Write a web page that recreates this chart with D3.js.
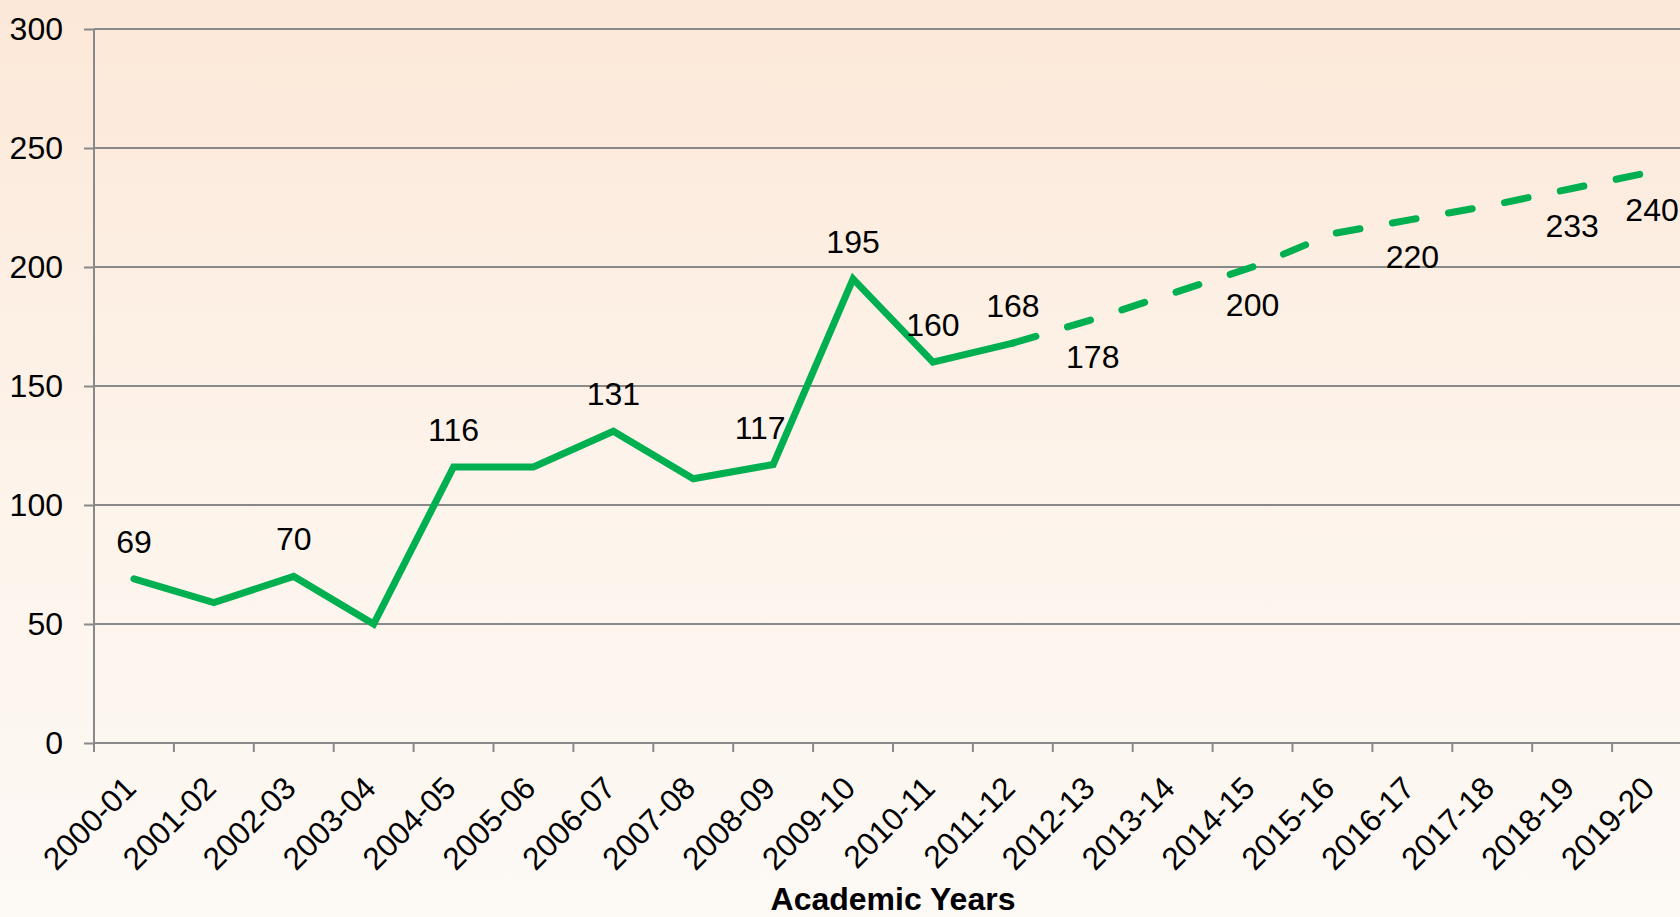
<!DOCTYPE html>
<html>
<head>
<meta charset="utf-8">
<script src="https://cdn.jsdelivr.net/npm/d3@7"></script>
<style>
  html, body { margin: 0; padding: 0; overflow: hidden; }
  svg { display: block; font-family: "Liberation Sans", Arial, sans-serif; }
</style>
</head>
<body>
<svg id="chart" width="1680" height="917"></svg>
<script>
(function () {
// ---- data ----
const categories = ["2000-01","2001-02","2002-03","2003-04","2004-05","2005-06","2006-07","2007-08","2008-09","2009-10",
                    "2010-11","2011-12","2012-13","2013-14","2014-15","2015-16","2016-17","2017-18","2018-19","2019-20"];
const actualYears = categories.slice(0, 12);
const actualValues = [69, 59, 70, 50, 116, 116, 131, 111, 117, 195, 160, 168];
const projectedYears = categories.slice(11);
const projectedValues = [168, 178, 189, 200, 214, 220, 226, 233, 240];
const labeledActual = ["2000-01","2002-03","2004-05","2006-07","2008-09","2009-10","2010-11","2011-12"];
const labeledProjected = ["2012-13","2014-15","2016-17","2018-19","2019-20"];
const yTicks = [0, 50, 100, 150, 200, 250, 300];
const xTitle = "Academic Years";

// ---- layout ----
const W = 1680, H = 917;
const mLeft = 94, mRight = 1692, mTop = 29, mBottom = 743;
const green = "#00B050", gridColor = "#898989";
const fs = 32;

const svg = d3.select("#chart");
const defs = svg.append("defs");
const grad = defs.append("linearGradient").attr("id", "bg").attr("x1", 0).attr("y1", 0).attr("x2", 0).attr("y2", 1);
grad.append("stop").attr("offset", "0%").attr("stop-color", "#fce8d8");
grad.append("stop").attr("offset", "50%").attr("stop-color", "#fdf3ea");
grad.append("stop").attr("offset", "100%").attr("stop-color", "#fdf9f5");
svg.append("rect").attr("width", W).attr("height", H).attr("fill", "url(#bg)");

const x = d3.scaleBand().domain(categories).range([mLeft, mRight]).padding(0);
const y = d3.scaleLinear().domain([0, 300]).range([mBottom, mTop]);
const cx = c => x(c) + x.bandwidth() / 2;

// gridlines
svg.append("g").selectAll("line").data(yTicks.filter(d => d > 0)).join("line")
  .attr("x1", mLeft).attr("x2", W).attr("y1", d => y(d)).attr("y2", d => y(d))
  .attr("stroke", gridColor).attr("stroke-width", 2);

// y axis
const yAxis = svg.append("g").attr("transform", `translate(${mLeft},0)`)
  .call(d3.axisLeft(y).tickValues(yTicks).tickSize(10).tickPadding(21).tickFormat(d3.format("d")));
yAxis.select(".domain").attr("stroke", gridColor).attr("stroke-width", 2).attr("d", `M0,${mTop}V${mBottom}`);
yAxis.selectAll(".tick line").attr("stroke", gridColor).attr("stroke-width", 2);
yAxis.selectAll(".tick text").attr("font-size", fs).attr("fill", "#000")
  .attr("font-family", "'Liberation Sans', Arial, sans-serif");

// x axis line
svg.append("line").attr("x1", mLeft).attr("x2", W).attr("y1", mBottom).attr("y2", mBottom)
  .attr("stroke", gridColor).attr("stroke-width", 2);
// x tick marks at band boundaries
svg.append("g").selectAll("line").data(categories).join("line")
  .attr("x1", d => x(d)).attr("x2", d => x(d)).attr("y1", mBottom).attr("y2", mBottom + 9)
  .attr("stroke", gridColor).attr("stroke-width", 2);
// x labels
svg.append("g").selectAll("text").data(categories).join("text")
  .attr("transform", d => `translate(${cx(d) + 4},790) rotate(-45)`)
  .attr("text-anchor", "end").attr("font-size", 31.5).attr("fill", "#000")
  .text(d => d);

// x title
svg.append("text").attr("x", (mLeft + mRight) / 2).attr("y", 910)
  .attr("text-anchor", "middle").attr("font-size", 32).attr("font-weight", "bold").attr("fill", "#000")
  .text(xTitle);

// lines
const line = d3.line().x(d => cx(d[0])).y(d => y(d[1]));
svg.append("path").datum(d3.zip(actualYears, actualValues))
  .attr("d", line).attr("fill", "none").attr("stroke", green).attr("stroke-width", 7)
  .attr("stroke-linecap", "round").attr("stroke-linejoin", "miter");
svg.append("path").datum(d3.zip(projectedYears, projectedValues))
  .attr("d", line).attr("fill", "none").attr("stroke", green).attr("stroke-width", 7)
  .attr("stroke-linecap", "round").attr("stroke-linejoin", "round")
  .attr("stroke-dasharray", "24,33");

// data labels
const actualMap = new Map(d3.zip(actualYears, actualValues));
const projMap = new Map(d3.zip(projectedYears, projectedValues));
svg.append("g").selectAll("text").data(labeledActual).join("text")
  .attr("x", d => cx(d) + (d === "2008-09" ? -13 : 0))
  .attr("y", d => y(actualMap.get(d)) - 26)
  .attr("text-anchor", "middle").attr("font-size", fs).attr("fill", "#000")
  .text(d => actualMap.get(d));
svg.append("g").selectAll("text").data(labeledProjected).join("text")
  .attr("x", d => cx(d))
  .attr("y", d => y(projMap.get(d)) + 49)
  .attr("text-anchor", "middle").attr("font-size", fs).attr("fill", "#000")
  .text(d => projMap.get(d));
})();
</script>
</body>
</html>
